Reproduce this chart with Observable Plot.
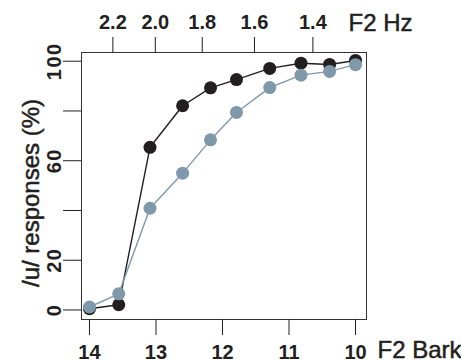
<!DOCTYPE html>
<html><head><meta charset="utf-8">
<script src="https://cdn.jsdelivr.net/npm/d3@7"></script>
<script src="https://cdn.jsdelivr.net/npm/@observablehq/plot@0.6"></script>
<style>
body{margin:0;background:#fff}
g[aria-label="y-axis tick label"] text{letter-spacing:1.5px}
</style>
</head><body><div id="chart"></div>
<script>
// Stimulus steps (F2 in Bark) and % /u/ responses for the two series
const barkSteps = [14.0, 13.56, 13.09, 12.60, 12.18, 11.79, 11.29, 10.82, 10.39, 10.0];
const blackPct  = [0.5, 2.1, 65.4, 82.1, 89.3, 92.6, 97.1, 99.2, 98.7, 100.3];
const bluePct   = [1.2, 6.5, 40.9, 55.0, 68.4, 79.4, 89.4, 94.4, 95.9, 98.6];

const barkTicks = [14, 13, 12, 11, 10];
const hzTicks = [2.2, 2.0, 1.8, 1.6, 1.4];   // kHz
const yTicks = [0, 20, 40, 60, 80, 100];
const yLabeled = [0, 20, 60, 100];

const xTitle = "F2 Bark";
const topTitle = "F2 Hz";
const yTitle = "/u/ responses (%)";

const blackColor = "#231f20";
const blueColor = "#7f99ab";

// Traunmüller Hz <-> Bark
const hzToBark = khz => { const f = khz * 1000; return 26.81 * f / (1960 + f) - 0.53; };
const barkToKhz = z => 1960 * (z + 0.53) / (26.28 - z) / 1000;

const blackRows = barkSteps.map((b, i) => ({bark: b, pct: blackPct[i]}));
const blueRows = barkSteps.map((b, i) => ({bark: b, pct: bluePct[i]}));

const tickFont = {fontSize: 20, fontWeight: "bold"};
const titleFont = {fontSize: 24, stroke: "#231f20", strokeWidth: 0.5, fill: "#231f20"};

const plot = Plot.plot({
  width: 461, height: 362,
  marginLeft: 81, marginRight: 95, marginTop: 52, marginBottom: 43,
  x: {domain: [14.12, 9.835]},
  y: {domain: [-3.82, 103.5]},
  style: {fontFamily: "'Liberation Sans', Arial, sans-serif", color: "#231f20", background: "#fff", overflow: "visible"},
  marks: [
    Plot.frame({stroke: "#333", strokeWidth: 1}),
    Plot.axisX(barkTicks, {anchor: "bottom", tickSize: 16, tickPadding: 9, label: null, ...tickFont}),
    Plot.axisX(hzTicks.map(hzToBark), {anchor: "top", tickSize: 16, tickPadding: 8, label: null,
      tickFormat: z => barkToKhz(z).toFixed(1), ...tickFont}),
    Plot.axisY(yTicks, {anchor: "left", tickSize: 18, tickRotate: -90, tickPadding: 3, label: null,
      tickFormat: d => yLabeled.includes(d) ? String(d) : "", ...tickFont}),
    Plot.line(blackRows, {x: "bark", y: "pct", stroke: blackColor, strokeWidth: 1.4}),
    Plot.dot(blackRows, {x: "bark", y: "pct", r: 6.5, fill: blackColor}),
    Plot.line(blueRows, {x: "bark", y: "pct", stroke: blueColor, strokeWidth: 1.4}),
    Plot.dot(blueRows, {x: "bark", y: "pct", r: 6.5, fill: blueColor}),
    Plot.text([topTitle], {text: d => d, frameAnchor: "top-right", dx: -18, dy: -22, textAnchor: "start", lineAnchor: "bottom", ...titleFont}),
    Plot.text([xTitle], {text: d => d, frameAnchor: "bottom-right", dx: 11, dy: 38, textAnchor: "start", lineAnchor: "bottom", ...titleFont}),
    Plot.text([yTitle], {text: d => d, frameAnchor: "left", dx: -43, dy: 7, rotate: -90, textAnchor: "middle", lineAnchor: "bottom", ...titleFont})
  ]
});
document.getElementById("chart").appendChild(plot);
</script>
</body></html>
